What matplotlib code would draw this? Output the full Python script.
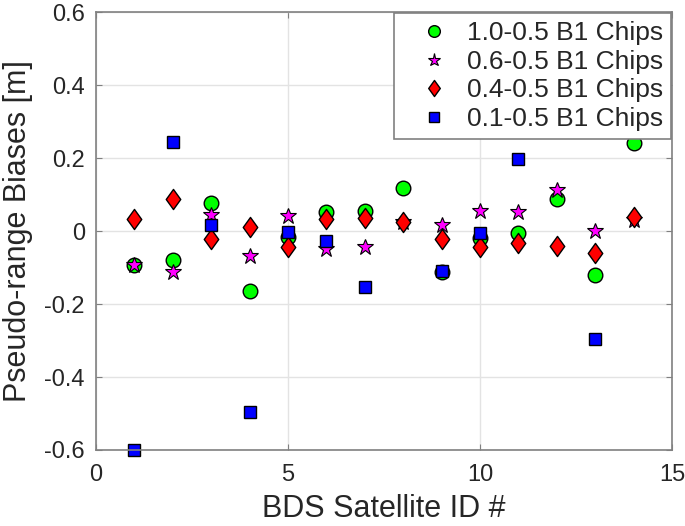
import numpy as np
import matplotlib.pyplot as plt
from matplotlib.path import Path

plt.rcParams['font.family'] = ['Liberation Sans', 'DejaVu Sans']

sat_id = [1, 2, 3, 4, 5, 6, 7, 8, 9, 10, 11, 12, 13, 14]
nan = np.nan
bias_10 = [-0.093, -0.079, 0.076, -0.163, -0.016, 0.052, 0.054, 0.117, -0.112, -0.020, -0.005, 0.087, -0.120, 0.240]
bias_06 = [-0.093, -0.112, 0.044, -0.068, 0.041, -0.049, -0.044, 0.025, 0.016, 0.054, 0.052, 0.112, 0.000, 0.030]
bias_04 = [0.033, 0.087, -0.022, 0.011, -0.044, 0.033, 0.035, 0.025, -0.022, -0.043, -0.033, -0.041, -0.060, 0.038]
bias_01 = [-0.600, 0.245, 0.016, -0.496, -0.003, -0.027, -0.153, nan, -0.109, -0.005, 0.198, nan, -0.297, nan]
labels = ['1.0-0.5 B1 Chips', '0.6-0.5 B1 Chips', '0.4-0.5 B1 Chips', '0.1-0.5 B1 Chips']

# matlab-like diamond, a bit taller than wide
diamond = Path([(0, 1), (0.72, 0), (0, -1), (-0.72, 0), (0, 1)],
               [Path.MOVETO, Path.LINETO, Path.LINETO, Path.LINETO, Path.CLOSEPOLY])

fig = plt.figure(figsize=(6.85, 5.26), dpi=100)
ax = fig.add_axes([0.140, 0.1445, 0.841, 0.8325])

ax.plot(sat_id, bias_10, 'o', ms=10.5, mfc='#00ff00', mec='black', mew=1, label=labels[0], clip_on=False)
ax.plot(sat_id, bias_06, '*', ms=12, mfc='#ff00ff', mec='black', mew=0.8, label=labels[1], clip_on=False)
ax.plot(sat_id, bias_04, marker=diamond, ls='none', ms=14.5, mfc='#ff0000', mec='black', mew=1, label=labels[2], clip_on=False)
ax.plot(sat_id, bias_01, 's', ms=8.5, mfc='#0000ff', mec='black', mew=1, label=labels[3], clip_on=False)

ax.set_xlim(0, 15)
ax.set_ylim(-0.6, 0.6)
ax.set_xticks([0, 5, 10, 15])
ax.set_yticks([-0.6, -0.4, -0.2, 0, 0.2, 0.4, 0.6])
ax.set_yticklabels(['-0.6', '-0.4', '-0.2', '0', '0.2', '0.4', '0.6'])
ax.grid(True, color='#e3e3e3', linewidth=1)
ax.set_axisbelow(True)
for s in ax.spines.values():
    s.set_color('#808080')
    s.set_linewidth(1.2)
ax.tick_params(direction='in', top=True, right=True, colors='#808080', labelcolor='#262626',
               labelsize=17, length=4)
ax.tick_params(axis='x', pad=10)
ax.tick_params(axis='y', pad=8)

ax.set_xlabel('BDS Satellite ID #', fontsize=22, color='#262626', labelpad=6)
ax.set_ylabel('Pseudo-range Biases [m]', fontsize=22, color='#262626', labelpad=8)

leg = ax.legend(loc='upper right', fontsize=19, fancybox=False, framealpha=1,
                edgecolor='#808080', borderaxespad=0.05, handletextpad=0.05,
                labelspacing=0.17, borderpad=0.3, handlelength=2.4, markerscale=0.8)
leg.get_frame().set_linewidth(1.2)
for t in leg.get_texts():
    t.set_color('#262626')

fig.savefig('out.png', dpi=100)
